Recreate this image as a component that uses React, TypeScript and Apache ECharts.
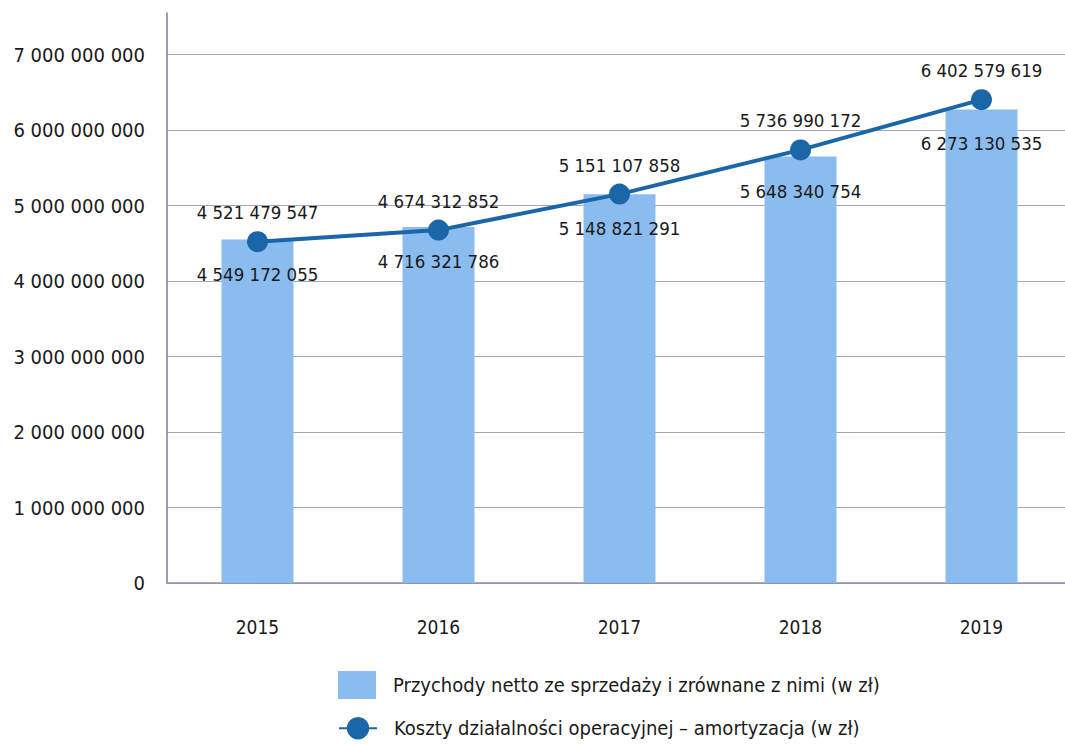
import React, { useEffect, useRef } from "react";
import * as echarts from "echarts";

const categories = ["2015", "2016", "2017", "2018", "2019"];
const revenue = [4549172055, 4716321786, 5148821291, 5648340754, 6273130535];
const costs = [4521479547, 4674312852, 5151107858, 5736990172, 6402579619];
const revenueName = "Przychody netto ze sprzedaży i zrównane z nimi (w zł)";
const costsName = "Koszty działalności operacyjnej – amortyzacja (w zł)";

const FONT = "'DejaVu Sans Condensed', 'Liberation Sans Narrow', sans-serif";
const TEXT = "#1a1a1a";
const fmt = (v: number) =>
  String(Math.round(v)).replace(/\B(?=(\d{3})+(?!\d))/g, " ");

export default function App() {
  const ref = useRef<HTMLDivElement>(null);
  useEffect(() => {
    if (!ref.current) return;
    const chart = echarts.init(ref.current, undefined, { renderer: "svg" });
    const legendBase = {
      left: 333,
      itemWidth: 38,
      itemHeight: 28,
      textStyle: { fontFamily: FONT, fontSize: 20, color: TEXT, padding: [0, 0, 0, 12] },
    };
    chart.setOption({
      animation: false,
      backgroundColor: "#ffffff",
      textStyle: { fontFamily: FONT },
      grid: { left: 167, top: 13, width: 905, height: 570, outerBoundsMode: "none", containLabel: false },
      legend: [
        { ...legendBase, top: 666, data: [{ name: revenueName, icon: "rect" }] },
        { ...legendBase, top: 712, data: [{ name: costsName }] },
      ],
      xAxis: {
        type: "category",
        data: categories,
        axisLine: { show: true, lineStyle: { color: "#8e8ea6", width: 1.5 } },
        axisTick: { show: false },
        axisLabel: { fontFamily: FONT, fontSize: 19, color: TEXT, margin: 34 },
      },
      yAxis: {
        type: "value",
        min: 0,
        max: 7550000000,
        interval: 1000000000,
        axisLine: { show: true, lineStyle: { color: "#7e7e94", width: 1.5 } },
        axisTick: { show: false },
        splitLine: { show: true, showMaxLine: false, lineStyle: { color: "#a4a4ba", width: 1 } },
        axisLabel: {
          fontFamily: FONT,
          fontSize: 20,
          color: TEXT,
          margin: 22,
          showMaxLabel: false,
          formatter: (v: number) => fmt(v),
        },
      },
      series: [
        {
          name: revenueName,
          type: "bar",
          data: revenue,
          barWidth: 72,
          itemStyle: { color: "#8bbcf0" },
          label: {
            show: true,
            position: "insideTop",
            distance: 25,
            fontFamily: FONT,
            fontSize: 18.5,
            color: TEXT,
            formatter: (p: any) => fmt(p.value),
          },
          z: 2,
        },
        {
          name: costsName,
          type: "line",
          data: costs,
          symbol: "circle",
          symbolSize: 21,
          lineStyle: { color: "#1a66a8", width: 4 },
          itemStyle: { color: "#1a66a8" },
          label: {
            show: true,
            position: "top",
            distance: 9,
            fontFamily: FONT,
            fontSize: 18.5,
            color: TEXT,
            formatter: (p: any) => fmt(p.value),
          },
          z: 3,
        },
      ],
    });
    return () => chart.dispose();
  }, []);
  return (
    <div
      ref={ref}
      style={{ position: "absolute", left: 0, top: 0, width: 1065, height: 744, background: "#fff" }}
    />
  );
}
